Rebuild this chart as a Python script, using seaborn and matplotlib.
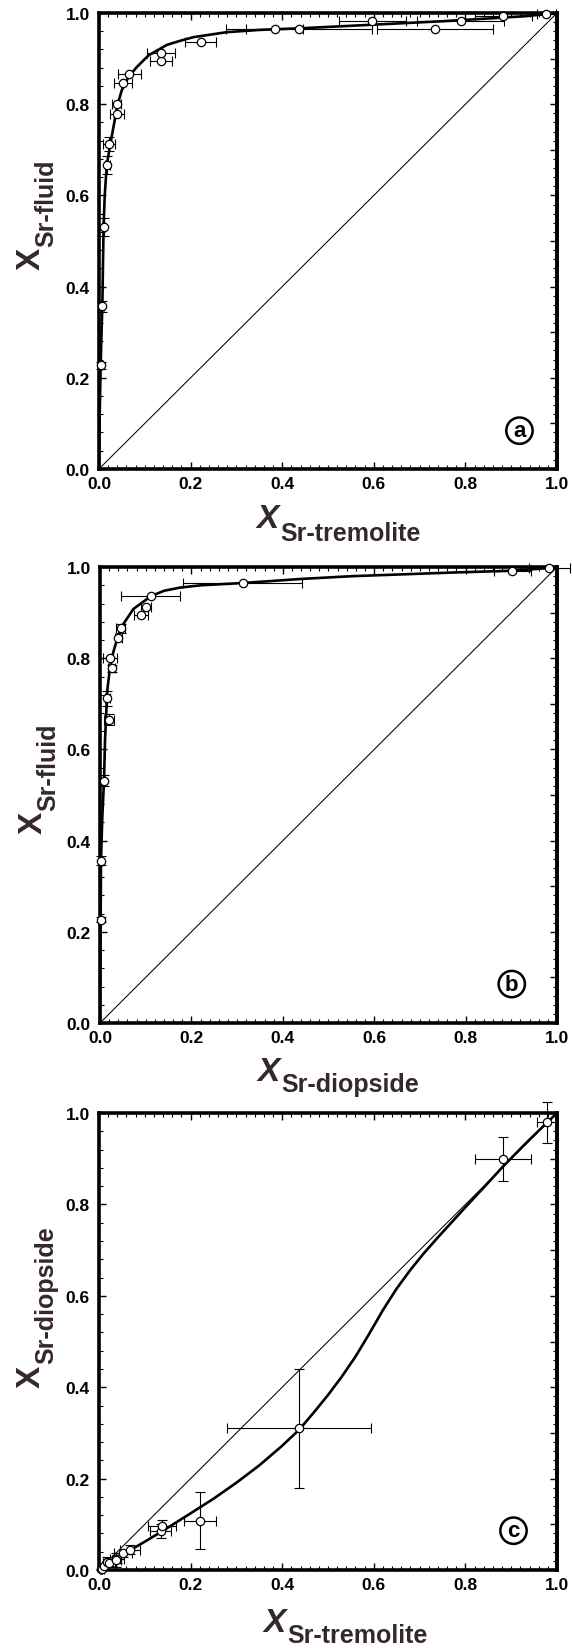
import numpy as np
import pandas as pd
import matplotlib
matplotlib.use('Agg')
import matplotlib.pyplot as plt
import seaborn as sns
from matplotlib.ticker import MultipleLocator, FormatStrFormatter

# ---------------- data ----------------
# Panel a: X Sr-tremolite vs X Sr-fluid
a_x    = [0.0036, 0.0073, 0.0100, 0.0180, 0.0226, 0.0400, 0.0386, 0.0530, 0.0660, 0.1354, 0.1354, 0.2220, 0.3840, 0.4370, 0.5970, 0.7340, 0.7900, 0.8830, 0.9770]
a_y    = [0.227, 0.357, 0.531, 0.667, 0.713, 0.778, 0.800, 0.846, 0.866, 0.895, 0.9115, 0.936, 0.966, 0.966, 0.982, 0.966, 0.982, 0.993, 0.998]
a_xerr = [0.002, 0.003, 0.004, 0.006, 0.013, 0.015, 0.010, 0.020, 0.025, 0.023, 0.031, 0.034, 0.062, 0.159, 0.073, 0.127, 0.095, 0.062, 0.020]
a_yerr = [0.008, 0.012, 0.020, 0.020, 0.015, 0.0, 0.0, 0.0, 0.0, 0.0, 0.0, 0.0, 0.0, 0.0, 0.0, 0.0, 0.0, 0.0, 0.0]
a_curve_x = [0.0, 0.0015, 0.0036, 0.0055, 0.0073, 0.0085, 0.0100, 0.0125, 0.0168, 0.0240, 0.0334, 0.0400, 0.0495, 0.0640, 0.0820, 0.1080, 0.1480, 0.1770, 0.2060, 0.2790, 0.3515, 0.40, 0.45, 0.55, 0.65, 0.75, 0.85, 0.93, 1.0]
a_curve_y = [0.0, 0.120, 0.227, 0.300, 0.357, 0.440, 0.531, 0.600, 0.665, 0.709, 0.760, 0.797, 0.830, 0.859, 0.881, 0.907, 0.930, 0.939, 0.947, 0.958, 0.963, 0.965, 0.967, 0.972, 0.977, 0.982, 0.988, 0.993, 1.0]

# Panel b: X Sr-diopside vs X Sr-fluid
b_x    = [0.0015, 0.0022, 0.0088, 0.0197, 0.0160, 0.0255, 0.0220, 0.0400, 0.0450, 0.0890, 0.1007, 0.1110, 0.3120, 0.9020, 0.9830]
b_y    = [0.227, 0.356, 0.531, 0.665, 0.712, 0.778, 0.800, 0.844, 0.8655, 0.895, 0.912, 0.936, 0.965, 0.992, 0.999]
b_xerr = [0.001, 0.002, 0.003, 0.010, 0.006, 0.008, 0.015, 0.008, 0.010, 0.015, 0.012, 0.064, 0.130, 0.040, 0.045]
b_yerr = [0.006, 0.010, 0.012, 0.012, 0.017, 0.008, 0.0, 0.0, 0.010, 0.0, 0.0, 0.0, 0.0, 0.0, 0.0]
b_curve_x = [0.0, 0.0008, 0.0015, 0.0022, 0.0050, 0.0088, 0.0110, 0.0160, 0.0220, 0.0290, 0.0400, 0.0510, 0.0730, 0.1110, 0.1400, 0.1750, 0.2200, 0.3120, 0.4400, 0.5500, 0.7700, 0.9020, 0.9830, 1.0]
b_curve_y = [0.0, 0.120, 0.227, 0.356, 0.450, 0.531, 0.620, 0.730, 0.780, 0.813, 0.850, 0.875, 0.908, 0.936, 0.948, 0.955, 0.960, 0.965, 0.974, 0.980, 0.988, 0.992, 0.998, 1.0]

# Panel c: X Sr-tremolite vs X Sr-diopside
c_x    = [0.004, 0.007, 0.010, 0.018, 0.022, 0.040, 0.038, 0.053, 0.0676, 0.135, 0.1375, 0.221, 0.437, 0.882, 0.978]
c_y    = [0.002, 0.003, 0.008, 0.018, 0.015, 0.024, 0.022, 0.0365, 0.044, 0.086, 0.097, 0.108, 0.310, 0.899, 0.980]
c_xerr = [0.002, 0.003, 0.004, 0.006, 0.013, 0.015, 0.010, 0.020, 0.022, 0.023, 0.031, 0.035, 0.157, 0.062, 0.022]
c_yerr = [0.001, 0.002, 0.003, 0.010, 0.006, 0.008, 0.015, 0.008, 0.010, 0.015, 0.012, 0.063, 0.130, 0.048, 0.045]
c_curve_x = [0.0, 0.02, 0.05, 0.0676, 0.10, 0.135, 0.20, 0.25, 0.30, 0.35, 0.40, 0.437, 0.47, 0.50, 0.53, 0.56, 0.59, 0.62, 0.65, 0.68, 0.71, 0.74, 0.77, 0.80, 0.84, 0.882, 0.93, 0.978, 1.0]
c_curve_y = [0.0, 0.013, 0.032, 0.043, 0.062, 0.083, 0.124, 0.156, 0.191, 0.229, 0.272, 0.307, 0.346, 0.383, 0.423, 0.467, 0.517, 0.569, 0.616, 0.657, 0.694, 0.728, 0.761, 0.794, 0.837, 0.883, 0.932, 0.979, 1.0]

diag = [0.0, 1.0]
tick_vals = [0.0, 0.2, 0.4, 0.6, 0.8, 1.0]

panels = [
    dict(x=a_x, y=a_y, xe=a_xerr, ye=a_yerr, cx=a_curve_x, cy=a_curve_y,
         xsub='Sr-tremolite', ysub='Sr-fluid', tag='a',
         pos=[0.1731, 0.7150, 0.8007, 0.2765],
         xj=0.393, xb=(-41.8, -50.9), yj=0.487, yb=(-42.5, -33.0), tagpos=(0.918, 0.084)),
    dict(x=b_x, y=b_y, xe=b_xerr, ye=b_yerr, cx=b_curve_x, cy=b_curve_y,
         xsub='Sr-diopside', ysub='Sr-fluid', tag='b',
         pos=[0.1748, 0.3790, 0.7990, 0.2765],
         xj=0.394, xb=(-40.8, -48.7), yj=0.465, yb=(-41.8, -32.4), tagpos=(0.901, 0.0855)),
    dict(x=c_x, y=c_y, xe=c_xerr, ye=c_yerr, cx=c_curve_x, cy=c_curve_y,
         xsub='Sr-tremolite', ysub='Sr-diopside', tag='c',
         pos=[0.1731, 0.0473, 0.8007, 0.2771],
         xj=0.408, xb=(-43.9, -52.0), yj=0.45, yb=(-42.5, -33.0), tagpos=(0.905, 0.086)),
]

sns.set_theme(style='white')
plt.rcParams['font.family'] = ['Liberation Sans', 'DejaVu Sans']
plt.rcParams['font.weight'] = 'bold'

LABC = '#34272f'
fig = plt.figure(figsize=(5.72, 16.49), dpi=100)
fig.patch.set_facecolor('white')

for p in panels:
    ax = fig.add_axes(p['pos'])
    ax.set_facecolor('white')
    # 1:1 line
    sns.lineplot(x=diag, y=diag, color='black', linewidth=0.75, ax=ax,
                 sort=False, estimator=None, zorder=2)
    # fitted curve
    sns.lineplot(x=p['cx'], y=p['cy'], color='black', linewidth=1.9, ax=ax,
                 sort=False, estimator=None, zorder=2.5)
    # error bars
    xs = np.array(p['x']); ys = np.array(p['y'])
    xe = np.array(p['xe']); ye = np.array(p['ye'])
    mx = xe > 0
    c1 = ax.errorbar(xs[mx], ys[mx], xerr=xe[mx], fmt='none', ecolor='black',
                     elinewidth=0.8, capsize=3.5, capthick=0.8, zorder=3)
    my = ye > 0
    c2 = ax.errorbar(xs[my], ys[my], yerr=ye[my], fmt='none', ecolor='black',
                     elinewidth=0.8, capsize=3.5, capthick=0.8, zorder=3)
    for cont in (c1, c2):
        for art in cont.get_children():
            art.set_clip_on(False)
    # markers
    sns.scatterplot(x=p['x'], y=p['y'], marker='o', s=36, facecolor='white',
                    edgecolor='black', linewidth=0.9, ax=ax, zorder=4, clip_on=False)

    ax.set_xlim(0, 1)
    ax.set_ylim(0, 1)
    ax.set_xticks(tick_vals)
    ax.set_yticks(tick_vals)
    ax.xaxis.set_major_formatter(FormatStrFormatter('%.1f'))
    ax.yaxis.set_major_formatter(FormatStrFormatter('%.1f'))
    ax.xaxis.set_minor_locator(MultipleLocator(0.02))
    ax.yaxis.set_minor_locator(MultipleLocator(0.04))
    ax.tick_params(axis='both', which='major', direction='in', length=5, width=1,
                   colors='black', labelsize=12.5, top=True, right=False, bottom=True, left=True)
    ax.tick_params(axis='both', which='minor', direction='in', length=2.8, width=0.8,
                   colors='black', top=True, right=False, bottom=True, left=True)
    ax.tick_params(axis='x', which='major', pad=5)
    ax.tick_params(axis='y', which='major', pad=6.5)
    for lab in ax.get_xticklabels() + ax.get_yticklabels():
        lab.set_fontweight('bold')
    for sp in ax.spines.values():
        sp.set_visible(True)
        sp.set_color('black')
        sp.set_linewidth(2.6)
    ax.set_xlabel('')
    ax.set_ylabel('')

    sec = ax.secondary_yaxis('right')
    sec.yaxis.set_major_locator(MultipleLocator(0.1))
    sec.yaxis.set_minor_locator(MultipleLocator(0.02))
    sec.tick_params(which='major', direction='in', length=5, width=1, labelright=False, colors='black')
    sec.tick_params(which='minor', direction='in', length=2.8, width=0.8, labelright=False, colors='black')
    sec.spines['right'].set_linewidth(2.6)
    sec.spines['right'].set_color('black')

    # x label: italic X with subscript
    ax.annotate('X', xy=(p['xj'], 0), xycoords='axes fraction',
                xytext=(0, p['xb'][0]), textcoords='offset points',
                ha='right', va='baseline', fontsize=24, fontweight='bold',
                fontstyle='italic', color=LABC, annotation_clip=False)
    ax.annotate(p['xsub'], xy=(p['xj'], 0), xycoords='axes fraction',
                xytext=(1, p['xb'][1]), textcoords='offset points',
                ha='left', va='baseline', fontsize=18, fontweight='bold',
                color=LABC, annotation_clip=False)
    # y label (rotated)
    ax.annotate('X', xy=(0, p['yj']), xycoords='axes fraction',
                xytext=(p['yb'][0], 0), textcoords='offset points',
                ha='right', va='baseline', rotation=90, rotation_mode='anchor',
                fontsize=24, fontweight='bold', color=LABC, annotation_clip=False)
    ax.annotate(p['ysub'], xy=(0, p['yj']), xycoords='axes fraction',
                xytext=(p['yb'][1], 1), textcoords='offset points',
                ha='left', va='baseline', rotation=90, rotation_mode='anchor',
                fontsize=18, fontweight='bold', color=LABC, annotation_clip=False)

    # circled panel tag
    ax.text(p['tagpos'][0], p['tagpos'][1], p['tag'], transform=ax.transAxes,
            ha='center', va='center', fontsize=16, fontweight='bold', color='black',
            bbox=dict(boxstyle='circle,pad=0.12', fc='white', ec='black', lw=1.8), zorder=6)

fig.savefig('out.png', dpi=100, facecolor='white')
